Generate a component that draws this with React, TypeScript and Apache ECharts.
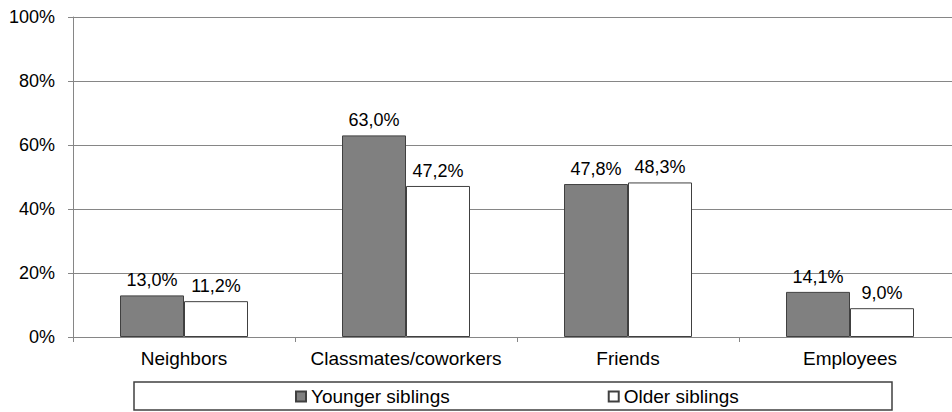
import React, { useEffect, useRef } from "react";
import * as echarts from "echarts";

const categories = ["Neighbors", "Classmates/coworkers", "Friends", "Employees"];
const youngerSiblings = [13.0, 63.0, 47.8, 14.1];
const olderSiblings = [11.2, 47.2, 48.3, 9.0];
const seriesNames = ["Younger siblings", "Older siblings"];

const FONT = "'Liberation Sans', Arial, sans-serif";

export default function App() {
  const ref = useRef<HTMLDivElement>(null);
  useEffect(() => {
    if (!ref.current) return;
    const chart = echarts.init(ref.current, null, { renderer: "svg" });
    const fmt = (p: any) => Number(p.value).toFixed(1).replace(".", ",") + "%";
    chart.setOption({
      animation: false,
      backgroundColor: "#ffffff",
      textStyle: { fontFamily: FONT },
      grid: { left: 73, top: 17, right: 0, bottom: 75, containLabel: false },
      legend: {
        data: seriesNames,
        left: 290,
        top: 382,
        itemWidth: 10,
        itemHeight: 10,
        itemGap: 158,
        icon: "rect",
        textStyle: { fontFamily: FONT, fontSize: 19, color: "#000" },
      },
      graphic: [
        {
          type: "rect",
          shape: { x: 134, y: 382, width: 758, height: 28 },
          style: { fill: "none", stroke: "#404040", lineWidth: 1.5 },
          silent: true,
        },
      ],
      xAxis: {
        type: "category",
        data: categories,
        axisLine: { show: true, lineStyle: { color: "#868686", width: 1 } },
        axisTick: { show: true, length: 5, lineStyle: { color: "#868686" } },
        axisLabel: { interval: 0, fontFamily: FONT, fontSize: 19, color: "#000", margin: 12 },
        splitLine: { show: false },
      },
      yAxis: {
        type: "value",
        min: 0,
        max: 100,
        interval: 20,
        axisLine: { show: true, lineStyle: { color: "#868686", width: 1 } },
        axisTick: { show: true, length: 5, lineStyle: { color: "#868686" } },
        axisLabel: { fontFamily: FONT, fontSize: 18, color: "#000", margin: 18, formatter: "{value}%" },
        splitLine: { show: true, lineStyle: { color: "#868686", width: 1 } },
      },
      series: [
        {
          name: seriesNames[0],
          type: "bar",
          data: youngerSiblings,
          barWidth: 64,
          barGap: "0%",
          itemStyle: { color: "#808080", borderColor: "#404040", borderWidth: 1 },
          label: { show: true, position: "top", distance: 6, formatter: fmt, fontFamily: FONT, fontSize: 18, color: "#000" },
        },
        {
          name: seriesNames[1],
          type: "bar",
          data: olderSiblings,
          barWidth: 64,
          barGap: "0%",
          itemStyle: { color: "#ffffff", borderColor: "#404040", borderWidth: 1 },
          label: { show: true, position: "top", distance: 6, formatter: fmt, fontFamily: FONT, fontSize: 18, color: "#000" },
        },
      ],
    });
    return () => chart.dispose();
  }, []);
  return (
    <div style={{ position: "fixed", left: 0, top: 0, width: 952, height: 412, overflow: "hidden" }}>
      <div ref={ref} style={{ width: 961, height: 412 }} />
    </div>
  );
}
